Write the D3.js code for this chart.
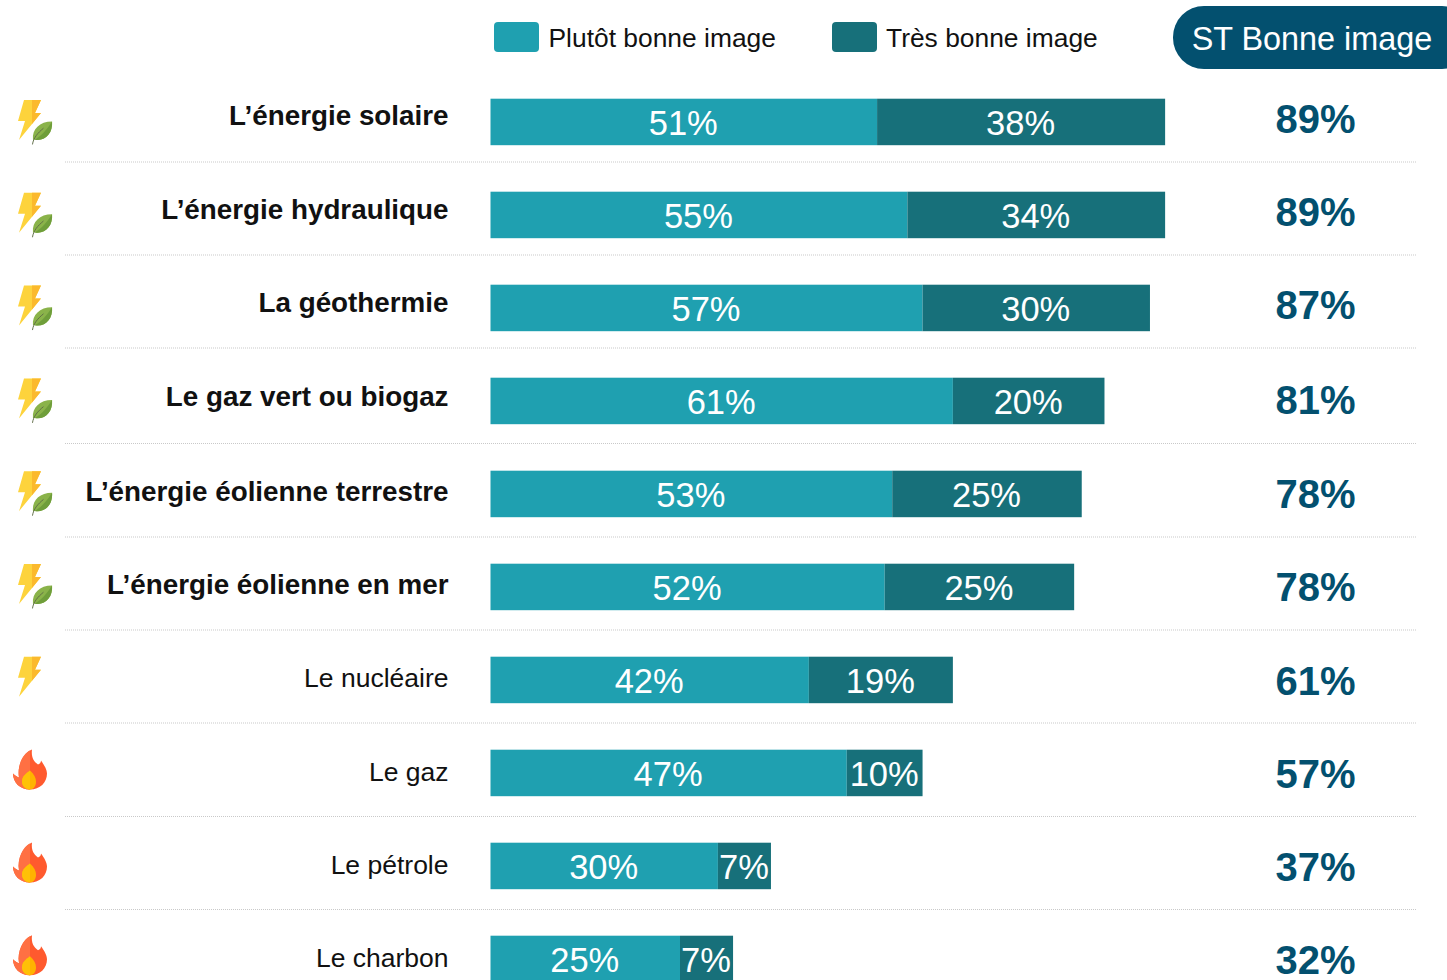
<!DOCTYPE html>
<html><head><meta charset="utf-8">
<script src="https://cdn.jsdelivr.net/npm/d3@7/dist/d3.min.js"></script>
<style>html,body{margin:0;padding:0;background:#fff;overflow:hidden}svg{display:block}text{font-family:"Liberation Sans",Roboto,sans-serif}</style>
</head><body>
<svg id="c" width="1447" height="980" xmlns="http://www.w3.org/2000/svg">
<defs>
<symbol id="bolt" viewBox="0 0 24 40" overflow="visible">
<path d="M6 0H23L17 13H23L1 40L7 21H0Z" fill="#fdd33c"/>
<path d="M14 0H23L17 13H23L14 24Z" fill="#fbb92d"/>
</symbol>
<symbol id="leaf" viewBox="0 0 22 24" overflow="visible">
<path d="M1 19C0 8 8 0 21 0C22 12 14 21 3 19Z" fill="#8ab34a"/>
<path d="M21 0C22 12 14 21 3 19C10 15 16 8 21 0Z" fill="#6f9e3a"/>
<path d="M0.5 24C1.5 17 6 12 12 7" fill="none" stroke="#5d6b45" stroke-width="1"/>
</symbol>
<symbol id="fire" viewBox="0 0 34 40" overflow="visible">
<path d="M17 40C7 40 0 33 0 24C3 27 4 27 6 28C4 16 10 4 19 0C18 8 21 12 25 15C27 14 28 13 28 11C31 15 34 20 34 24C34 33 27 40 17 40Z" fill="#ff5a2e"/>
<path d="M17 40C7 40 0 33 0 24C3 27 4 27 6 28C4 16 10 4 17 1Z" fill="#ff7043"/>
<path d="M17 40C12 40 9 36 9 32C9 27 13 24 17 21C21 25 23 28 23 32C23 36 21 40 17 40Z" fill="#ffb300"/>
<path d="M17 40C12 40 9 36 9 32C9 27 13 24 17 21Z" fill="#ffc107"/>
</symbol>
</defs>
</svg>
<script>
const categories = ["L’énergie solaire","L’énergie hydraulique","La géothermie","Le gaz vert ou biogaz","L’énergie éolienne terrestre","L’énergie éolienne en mer","Le nucléaire","Le gaz","Le pétrole","Le charbon"];
const plutot = [51,55,57,61,53,52,42,47,30,25];
const tres = [38,34,30,20,25,25,19,10,7,7];
const totals = [89,89,87,81,78,78,61,57,37,32];
const bold = [true,true,true,true,true,true,false,false,false,false];
const icons = ["green","green","green","green","green","green","nuclear","fossil","fossil","fossil"];
const legendLabels = ["Plutôt bonne image","Très bonne image"];
const totalHeader = "ST Bonne image";

const svg = d3.select("#c");
const TEAL="#1fa0b0", DARK="#17707a", NAVY="#03506f";
const x = d3.scaleLinear().domain([0,100]).range([490.5,1248.5]);
const step = 93, bh = 46.5;
const yTop = c => 98.7 + categories.indexOf(c)*step;
// small per-row drift of the original slide's text boxes
const labelShift = [0,1,1,2,4,4,4,5,5,5];
const totalShift = [-1,-1,-1,1,2,2,3,3,3,3];
const sepShift = [0,0,0,2.5,3,3,3,3.5,3.5];

svg.append("g").selectAll("line").data(categories.slice(0,-1)).join("line")
 .attr("x1",65).attr("x2",1417)
 .attr("y1",(d,i)=>yTop(d)+63.3+sepShift[i]).attr("y2",(d,i)=>yTop(d)+63.3+sepShift[i])
 .attr("stroke","#c9c9c9").attr("stroke-width",1).attr("stroke-dasharray","1 1");

const rows = svg.append("g").selectAll("g").data(categories).join("g");
rows.append("rect").attr("x",x(0)).attr("y",d=>yTop(d)).attr("height",bh)
 .attr("width",(d,i)=>x(plutot[i])-x(0)).attr("fill",TEAL);
rows.append("rect").attr("x",(d,i)=>x(plutot[i])).attr("y",d=>yTop(d)).attr("height",bh)
 .attr("width",(d,i)=>x(plutot[i]+tres[i])-x(plutot[i])).attr("fill",DARK);
rows.append("text").attr("x",(d,i)=>(x(0)+x(plutot[i]))/2-0.5).attr("y",d=>yTop(d)+35.8)
 .attr("text-anchor","middle").attr("font-size",34.5).attr("fill","#fff").text((d,i)=>plutot[i]+"%");
rows.append("text").attr("x",(d,i)=>(x(plutot[i])+x(plutot[i]+tres[i]))/2-0.5).attr("y",d=>yTop(d)+35.8)
 .attr("text-anchor","middle").attr("font-size",34.5).attr("fill","#fff").text((d,i)=>tres[i]+"%");
rows.append("text").attr("x",448.5).attr("y",(d,i)=>yTop(d)+26.4+labelShift[i])
 .attr("text-anchor","end").attr("font-size",(d,i)=>bold[i]?27.8:26.5).attr("font-weight",(d,i)=>bold[i]?700:400).attr("fill","#111").text(d=>d);
rows.append("text").attr("x",1315.5).attr("y",(d,i)=>yTop(d)+35.5+totalShift[i])
 .attr("text-anchor","middle").attr("font-size",40).attr("font-weight",700).attr("fill",NAVY).text((d,i)=>totals[i]+"%");
rows.each(function(d,i){
  const g=d3.select(this), k=icons[i], t=100+i*92.8;
  if(k==="fossil") g.append("use").attr("href","#fire").attr("x",13).attr("y",t).attr("width",34).attr("height",40);
  else g.append("use").attr("href","#bolt").attr("x",18).attr("y",t).attr("width",24).attr("height",40);
  if(k==="green") g.append("use").attr("href","#leaf").attr("x",32).attr("y",t+21).attr("width",21).attr("height",24);
});

[[494,TEAL,548.5],[832,DARK,886]].forEach((p,i)=>{
  svg.append("rect").attr("x",p[0]).attr("y",22).attr("width",45).attr("height",30).attr("rx",4).attr("fill",p[1]);
  svg.append("text").attr("x",p[2]).attr("y",47).attr("font-size",26.4).attr("fill","#111").text(legendLabels[i]);
});
svg.append("rect").attr("x",1173).attr("y",6).attr("width",300).attr("height",63).attr("rx",31).attr("fill",NAVY);
svg.append("text").attr("x",1312).attr("y",50).attr("text-anchor","middle").attr("font-size",32.4).attr("fill","#fff").text(totalHeader);
</script>
</body></html>
